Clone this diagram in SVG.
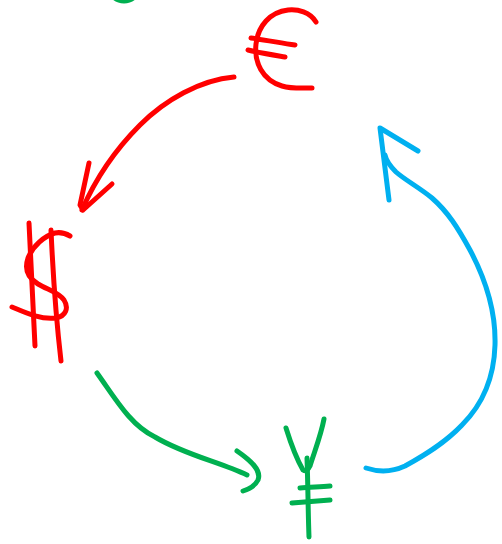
<svg xmlns="http://www.w3.org/2000/svg" width="502" height="544" viewBox="0 0 502 544">
<style>
.s{fill:none;stroke-width:5;stroke-linecap:round;stroke-linejoin:round}
.r{stroke:#ff0000}.g{stroke:#00b050}.b{stroke:#00b0f0}
</style>
<rect width="502" height="544" fill="#ffffff"/>
<g id="top-mark"><ellipse class="s g" cx="124" cy="-9" rx="13" ry="10"/></g>
<g id="euro">
<path class="s r" d="M316,22 C310,12 298,9 288,10 C270,12 258,26 256,44 C254,62 262,80 282,86 C292,89 303,88 312,88"/>
<path class="s r" d="M251,38 C266,40 281,43 295,45"/>
<path class="s r" d="M248,50 C260,53 273,55 285,57"/>
</g>
<g id="dollar">
<path class="s r" d="M29,223 C31,264 33,305 35,346"/>
<path class="s r" d="M51,230 C53,275 56,318 61,361"/>
<path class="s r" d="M70,236 C65,233 60,232 55,233 C44,236 33,246 28,258 C24,270 28,278 38,284 C48,290 58,292 64,300 C69,308 66,316 56,318 C40,320 24,312 12,307"/>
</g>
<g id="yen">
<path class="s g" d="M286,428 C291,444 296,458 303,470 C306,472 308,470 310,466 C315,450 321,435 324,419"/>
<path class="s g" d="M307,458 C308,485 308,510 309,537"/>
<path class="s g" d="M300,488 C310,487 320,487 330,486"/>
<path class="s g" d="M292,503 C305,502 318,501 330,500"/>
</g>
<g id="connectors">
<path class="s r" d="M234,77 C200,80 165,100 140,125 C115,150 95,180 82,210"/>
<path class="s r" d="M89,163 L80,205 L83,210 L112,184"/>
<path class="s g" d="M97,373 C115,398 130,425 155,437 C185,455 220,462 247,475"/>
<path class="s g" d="M237,451 C250,460 262,470 258,480 C255,486 249,489 243,491"/>
<path class="s b" d="M366,468 C378,472 392,472 405,466 C425,455 445,443 462,425 C482,405 494,380 495,345 C496,310 486,280 470,250 C458,228 448,212 432,198 C420,188 405,180 396,172 C390,166 386,160 385,155"/>
<path class="s b" d="M389,200 L380,128 L418,151"/>
</g>
</svg>
